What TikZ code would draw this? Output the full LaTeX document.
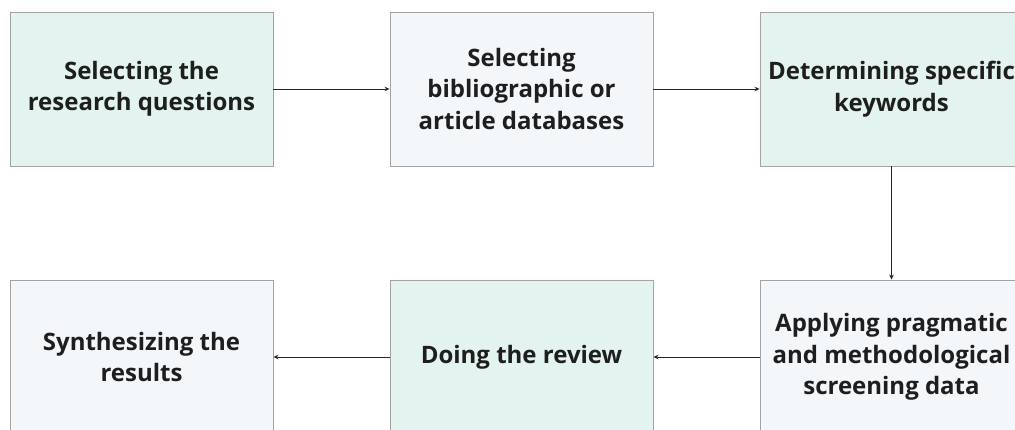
\documentclass[tikz,border=0pt]{standalone}
\usepackage{fontspec}
\setmainfont{Open Sans}
\usetikzlibrary{arrows.meta}
\definecolor{greenfill}{HTML}{E3F4F0}
\definecolor{bluefill}{HTML}{F3F7FA}
\definecolor{boxline}{HTML}{A3A3A3}
\definecolor{txt}{HTML}{1E1E1E}
\tikzset{
  stepbox/.style={draw=boxline, line width=0.9pt, minimum width=263pt, minimum height=154pt,
    inner sep=0pt, align=center, text=txt,
    font=\bfseries\fontsize{24}{31.5}\selectfont},
  gbox/.style={stepbox, fill=greenfill},
  bbox/.style={stepbox, fill=bluefill},
  flow/.style={draw=black!85, line width=0.9pt, -{Stealth[length=5pt,width=4.5pt]}}
}
\begin{document}
\begin{tikzpicture}[x=1pt,y=-1pt]
\useasboundingbox (0,0) rectangle (1015,430);
\clip (0,0) rectangle (1015,430);
\fill[white] (0,0) rectangle (1015,430);
% top row
\node[gbox] (q) at (141.5,89) {Selecting the\\research questions};
\node[bbox] (db) at (521.5,89) {Selecting\\bibliographic or\\article databases};
\node[gbox] (kw) at (891.5,89) {Determining specific\\keywords};
% bottom row
\node[bbox] (sc) at (891.5,357) {Applying pragmatic\\and methodological\\screening data};
\node[gbox] (rv) at (521.5,357) {Doing the review};
\node[bbox] (sy) at (141.5,357) {Synthesizing the\\results};
% connectors
\draw[flow] (q) -- (db);
\draw[flow] (db) -- (kw);
\draw[flow] (kw) -- (sc);
\draw[flow] (sc) -- (rv);
\draw[flow] (rv) -- (sy);
\end{tikzpicture}
\end{document}
